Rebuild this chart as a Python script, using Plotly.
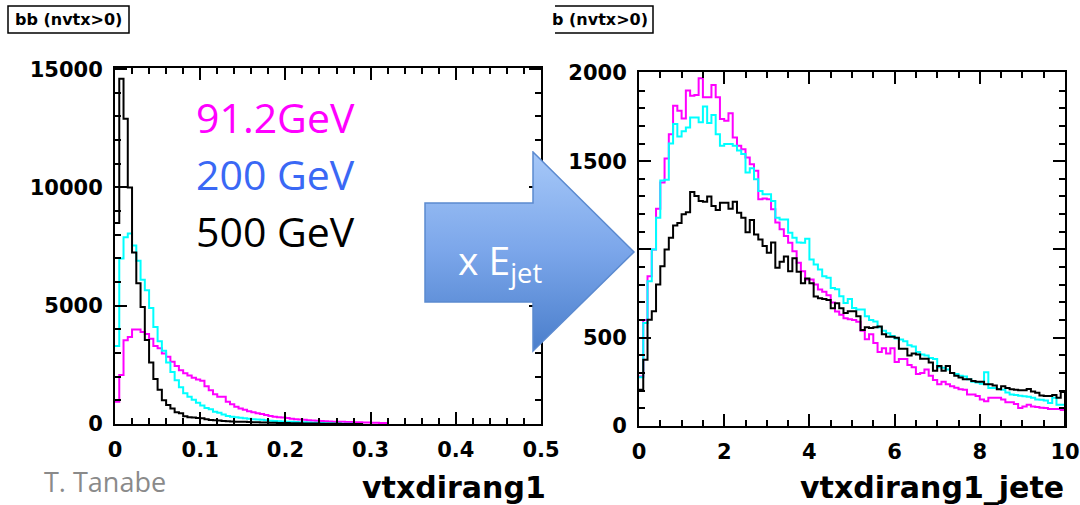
import base64
import numpy as np
import plotly.graph_objects as go

W, H = 1080, 505

# ---------------- data ----------------
left_bin_width = 0.005
right_bin_width = 0.1

left_magenta = [940, 2070, 3540, 3680, 3990, 3990, 3890, 3800, 3600, 3300,
                3200, 2980, 2840, 2630, 2450, 2270, 2150, 2050, 1950, 1880,
                1830, 1600, 1430, 1260, 1150, 1150, 940, 840, 730, 660,
                600, 540, 500, 450, 420, 380, 340, 310, 290, 270,
                250, 220, 200, 190, 180, 160, 150, 140, 130, 120,
                110, 100, 95, 90, 85, 80, 75, 70, 65, 60,
                55, 50, 45, 40]
left_cyan = [3300, 7000, 7900, 8050, 7550, 6900, 6100, 5650, 4900, 4100,
             3500, 3100, 2600, 2200, 1850, 1550, 1300, 1150, 1020, 900,
             780, 680, 620, 520, 480, 400, 340, 310, 290, 260,
             240, 220, 200, 190, 180, 160, 140, 130, 120, 110,
             100, 90, 85, 75, 70, 60, 55, 50, 40, 35,
             30, 25, 20, 15, 10, 10]
left_black = [8500, 14600, 12900, 10000, 7250, 5950, 4950, 3550, 2600, 1900,
              1450, 1000, 800, 650, 500, 450, 330, 290, 270, 250,
              240, 200, 170, 160, 150, 130, 120, 110, 100, 95,
              90, 80, 75, 70, 65, 60, 55, 50, 45, 40,
              38, 35, 30, 28, 25, 22, 20, 18, 15, 12,
              10, 8, 6, 5, 4, 3, 2, 1]

right_magenta = [280, 600, 848, 1000, 1231, 1379, 1515, 1653, 1814, 1786,
                 1742, 1900, 1871, 1875, 1970, 1862, 1862, 1932, 1862, 1739,
                 1729, 1771, 1634, 1587, 1568, 1521, 1483, 1445, 1284, 1288,
                 1284, 1227, 1152, 1114, 1076, 1038, 990, 924, 877, 830,
                 830, 801, 773, 760, 740, 700, 648, 630, 610, 605,
                 600, 590, 540, 492, 520, 470, 419, 440, 410, 440,
                 362, 380, 380, 345, 333, 294, 300, 320, 285, 260,
                 237, 250, 237, 225, 217, 208, 205, 179, 179, 170,
                 150, 140, 160, 160, 160, 150, 135, 135, 125, 102,
                 110, 120, 110, 108, 104, 102, 96, 96, 96, 90]
right_cyan = [276, 583, 820, 1000, 1180, 1390, 1395, 1600, 1710, 1640,
              1670, 1690, 1748, 1748, 1720, 1810, 1716, 1761, 1653, 1587,
              1597, 1597, 1587, 1560, 1540, 1436, 1460, 1398, 1331, 1312,
              1312, 1275, 1180, 1170, 1170, 1095, 1066, 1040, 1038, 1060,
              943, 915, 886, 848, 840, 782, 775, 735, 697, 720,
              669, 660, 660, 621, 600, 592, 560, 540, 525, 510,
              496, 490, 480, 458, 450, 419, 405, 400, 385, 380,
              333, 330, 320, 300, 295, 285, 280, 265, 250, 246,
              240, 304, 215, 215, 210, 205, 190, 179, 175, 172,
              168, 165, 160, 150, 148, 145, 130, 160, 121, 121]
right_black = [205, 375, 602, 650, 801, 905, 1000, 1066, 1136, 1150,
               1199, 1210, 1326, 1303, 1275, 1270, 1300, 1246, 1223, 1265,
               1265, 1230, 1270, 1208, 1180, 1098, 1167, 1085, 1057, 1020,
               981, 1040, 896, 930, 960, 877, 950, 874, 808, 836,
               808, 733, 723, 720, 714, 667, 695, 667, 640, 650,
               650, 621, 544, 560, 555, 560, 563, 520, 506, 506,
               500, 438, 438, 400, 410, 405, 381, 381, 360, 313,
               340, 313, 340, 300, 285, 275, 265, 265, 255, 250,
               250, 237, 237, 230, 208, 225, 215, 208, 205, 202,
               202, 210, 195, 188, 173, 170, 170, 175, 160, 192]

left_xticks = [0, 0.1, 0.2, 0.3, 0.4, 0.5]
left_xticklabels = ["0", "0.1", "0.2", "0.3", "0.4", "0.5"]
left_yticks = [0, 5000, 10000, 15000]
left_yticklabels = ["0", "5000", "10000", "15000"]
right_xticks = [0, 2, 4, 6, 8, 10]
right_xticklabels = ["0", "2", "4", "6", "8", "10"]
right_yticks = [0, 500, 1000, 1500, 2000]
right_yticklabels = ["0", "500", "1000", "1500", "2000"]

legend_labels = ["91.2GeV", "200 GeV", "500 GeV"]
legend_colors = ["#ff00ff", "#3a68f5", "#000000"]
hist_colors = ["#ff00ff", "#00ffff", "#000000"]


def step_xy(vals, width):
    n = len(vals)
    edges = np.arange(n + 1) * width
    xs = list(edges[:n]) + [edges[n], edges[n]]
    ys = list(vals) + [vals[-1], 0]
    return xs, ys


fig = go.Figure()
for vals, col in zip([left_magenta, left_cyan, left_black], hist_colors):
    xs, ys = step_xy(vals, left_bin_width)
    fig.add_trace(go.Scatter(x=xs, y=ys, mode="lines", line=dict(color=col, width=2, shape="hv"),
                             xaxis="x", yaxis="y", showlegend=False, hoverinfo="skip"))
for vals, col in zip([right_magenta, right_cyan, right_black], hist_colors):
    xs, ys = step_xy(vals, right_bin_width)
    fig.add_trace(go.Scatter(x=xs, y=ys, mode="lines", line=dict(color=col, width=2, shape="hv"),
                             xaxis="x2", yaxis="y2", showlegend=False, hoverinfo="skip"))


def px_x(p):
    return p / W


def px_y(p):
    return 1 - p / H


tickfont = dict(family="DejaVu Sans", size=21, color="black", weight="bold")
common = dict(showline=True, linecolor="black", linewidth=2, mirror="allticks",
              ticks="inside", ticklen=12, tickwidth=1.5, tickcolor="black",
              showgrid=False, zeroline=False, tickfont=tickfont, ticklabelstandoff=6,
              automargin=False, tickmode="array")
minor_style = dict(ticks="inside", ticklen=6, tickwidth=1.5, tickcolor="black")

fig.update_layout(
    width=W, height=H, margin=dict(l=0, r=0, t=0, b=0, autoexpand=False),
    paper_bgcolor="white", plot_bgcolor="white",
    xaxis=dict(domain=[px_x(115), px_x(541)], range=[0, 0.5], anchor="y",
               tickvals=left_xticks, ticktext=left_xticklabels,
               minor=dict(dtick=0.02, **minor_style), **common),
    yaxis=dict(domain=[px_y(424), px_y(68)], range=[0, 15050], anchor="x",
               tickvals=left_yticks, ticktext=left_yticklabels,
               minor=dict(dtick=1000, **minor_style), **common),
    xaxis2=dict(domain=[px_x(639), px_x(1065)], range=[0, 10], anchor="y2",
                tickvals=right_xticks, ticktext=right_xticklabels,
                minor=dict(dtick=0.5, **minor_style), **common),
    yaxis2=dict(domain=[px_y(426), px_y(72)], range=[0, 2005], anchor="x2",
                tickvals=right_yticks, ticktext=right_yticklabels,
                minor=dict(dtick=100, **minor_style), **common),
)

ann = []
# title boxes
ann.append(dict(text="bb (nvtx>0)", x=px_x(68), y=px_y(19.5), xref="paper", yref="paper",
                xanchor="center", yanchor="middle", showarrow=False,
                font=dict(family="DejaVu Sans", size=16, color="black", weight="bold")))
ann.append(dict(text="b (nvtx>0)", x=px_x(650), y=px_y(19.5), xref="paper", yref="paper",
                xanchor="right", yanchor="middle", showarrow=False,
                font=dict(family="DejaVu Sans", size=16, color="black", weight="bold")))
# axis titles
ann.append(dict(text="vtxdirang1", x=px_x(548), y=px_y(487), xref="paper", yref="paper",
                xanchor="right", yanchor="middle", showarrow=False,
                font=dict(family="DejaVu Sans", size=30, color="black", weight="bold")))
ann.append(dict(text="vtxdirang1_jete", x=px_x(1066), y=px_y(487), xref="paper", yref="paper",
                xanchor="right", yanchor="middle", showarrow=False,
                font=dict(family="DejaVu Sans", size=30, color="black", weight="bold")))
# author
ann.append(dict(text="T. Tanabe", x=px_x(42), y=px_y(481), xref="paper", yref="paper",
                xanchor="left", yanchor="middle", showarrow=False,
                font=dict(family="Open Sans", size=27, color="#8a8a8a")))
# legend texts
for i, (lab, col) in enumerate(zip(legend_labels, legend_colors)):
    ann.append(dict(text=lab, x=px_x(194), y=px_y(117 + 57 * i), xref="paper", yref="paper",
                    xanchor="left", yanchor="middle", showarrow=False,
                    font=dict(family="Open Sans", size=41, color=col)))
# arrow label
ann.append(dict(text="x E<sub>jet</sub>", x=px_x(456), y=px_y(262), xref="paper", yref="paper",
                xanchor="left", yanchor="middle", showarrow=False,
                font=dict(family="Open Sans", size=39, color="white")))
fig.update_layout(annotations=ann)

# title box frames
fig.add_shape(type="rect", xref="paper", yref="paper", x0=px_x(8), x1=px_x(129), y0=px_y(33), y1=px_y(6),
              line=dict(color="black", width=1.5), fillcolor="rgba(0,0,0,0)")
fig.add_shape(type="path", xref="paper", yref="paper",
              path=f"M {px_x(555)},{px_y(6)} L {px_x(653)},{px_y(6)} L {px_x(653)},{px_y(33)} L {px_x(555)},{px_y(33)}",
              line=dict(color="black", width=1.5))

# block arrow with gradient
svg = ('<svg xmlns="http://www.w3.org/2000/svg" width="212" height="202" viewBox="0 0 212 202" '
       'preserveAspectRatio="none"><defs><linearGradient id="g" x1="0" y1="0" x2="0" y2="1">'
       '<stop offset="0" stop-color="#a6c8f8"/><stop offset="0.5" stop-color="#7ba6ea"/>'
       '<stop offset="1" stop-color="#4a7ecb"/></linearGradient></defs>'
       '<path d="M1,52 L109,52 L109,1 L210,101 L109,200 L109,151 L1,151 Z" fill="url(#g)" '
       'stroke="#5b8ad0" stroke-width="1.5"/></svg>')
src = "data:image/svg+xml;base64," + base64.b64encode(svg.encode()).decode()
fig.add_layout_image(dict(source=src, xref="paper", yref="paper", x=px_x(424), y=px_y(151),
                          sizex=212 / W, sizey=202 / H, xanchor="left", yanchor="top",
                          sizing="stretch", layer="above"))

fig.write_html("out.html")
